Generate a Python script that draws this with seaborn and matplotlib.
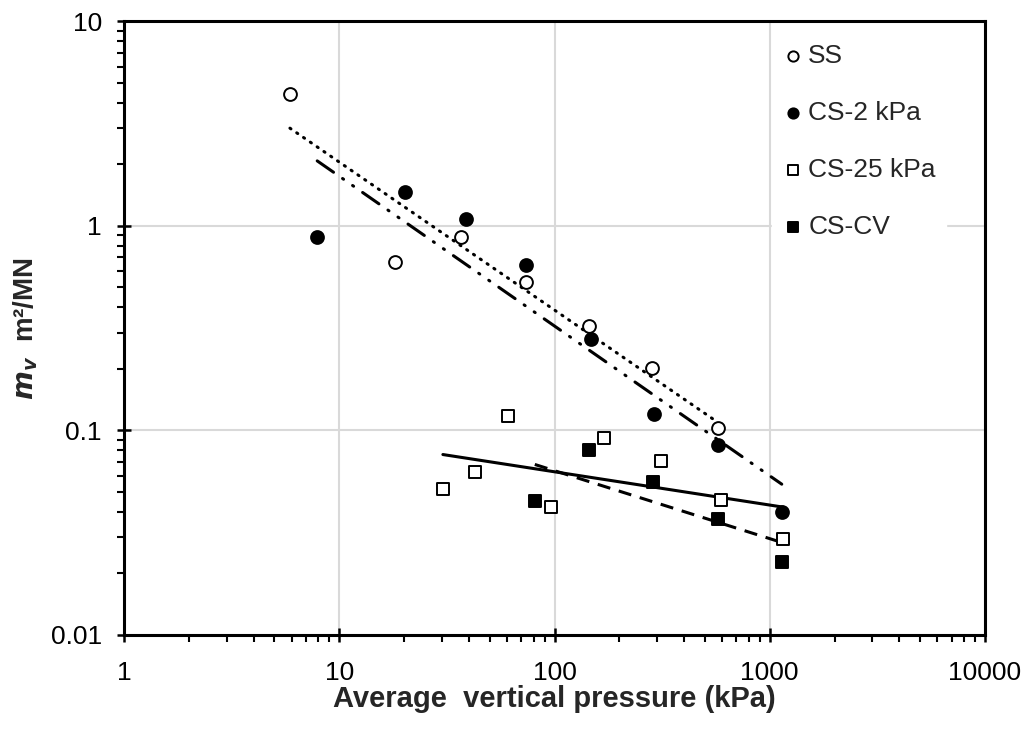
import numpy as np
import matplotlib
matplotlib.use("Agg")
import matplotlib.pyplot as plt
import seaborn as sns

# data (pressure in kPa, mv in m2/MN)
ss_p = [5.9, 18.2, 36.6, 73.4, 145, 285, 574]
ss_mv = [4.40, 0.664, 0.884, 0.53, 0.323, 0.202, 0.102]

cs2_p = [7.9, 20.1, 38.6, 74, 147, 290, 574, 1137]
cs2_mv = [0.883, 1.46, 1.075, 0.641, 0.279, 0.120, 0.085, 0.040]

cs25_p = [30.3, 42.6, 61, 96.2, 169, 313, 595, 1157]
cs25_mv = [0.0514, 0.0625, 0.1175, 0.0421, 0.0917, 0.071, 0.0454, 0.0294]

cscv_p = [81, 145, 286, 574, 1137]
cscv_mv = [0.0453, 0.0805, 0.0556, 0.037, 0.0228]

labels = ["SS", "CS-2 kPa", "CS-25 kPa", "CS-CV"]


def power_fit(x, y):
    # Excel style power trendline: straight line fit in log-log space
    lx, ly = np.log10(x), np.log10(y)
    b, a = np.polyfit(lx, ly, 1)
    xs = np.array([min(x), max(x)])
    return xs, 10 ** (a + b * np.log10(xs))


sns.set_theme(style="white")
plt.rcParams['font.family'] = ['Liberation Sans', 'DejaVu Sans']

fig, ax = plt.subplots(figsize=(10.3, 7.38), dpi=100)
fig.subplots_adjust(left=0.1204, right=0.9563, top=0.971, bottom=0.14)

series = [
    (ss_p, ss_mv, "o", "white", (0, (0.4, 2.3)), "round"),
    (cs2_p, cs2_mv, "o", "black", (0, (6.5, 3.6, 0.4, 3.6, 0.4, 3.6)), "round"),
    (cs25_p, cs25_mv, "s", "white", "-", "round"),
    (cscv_p, cscv_mv, "s", "black", (0, (4.3, 2.9)), "butt"),
]

for (x, y, mk, fc, ls, cap), lab in zip(series, labels):
    xs, ys = power_fit(x, y)
    sns.lineplot(x=xs, y=ys, color="black", lw=2.2, linestyle=ls,
                 dash_capstyle=cap, ax=ax, legend=False)
    sns.scatterplot(x=x, y=y, marker=mk, s=85, facecolor=fc, edgecolor="black",
                    linewidth=1.4, label=lab, ax=ax, zorder=3)

ax.set_xscale("log")
ax.set_yscale("log")
ax.set_xlim(1, 10000)
ax.set_ylim(0.01, 10)
ax.set_xticks([1, 10, 100, 1000, 10000])
ax.set_xticklabels(["1", "10", "100", "1000", "10000"])
ax.set_yticks([0.01, 0.1, 1, 10])
ax.set_yticklabels(["0.01", "0.1", "1", "10"])

ax.grid(True, which="major", color="#d9d9d9", lw=1.5)
ax.grid(False, which="minor")
for sp in ax.spines.values():
    sp.set_color("black")
    sp.set_linewidth(2.2)

ax.tick_params(which="major", direction="inout", length=10, width=1.8,
               labelsize=19, colors="black", pad=11)
ax.tick_params(axis="x", which="major", pad=14)
ax.tick_params(which="minor", direction="out", length=5, width=1.5, colors="black")
ax.tick_params(axis="x", which="both", bottom=True)
ax.tick_params(axis="y", which="both", left=True)

ax.set_xlabel("Average  vertical pressure (kPa)", fontsize=21, fontweight="bold", labelpad=0)
ax.set_ylabel(r"$\mathbfit{m}_{\mathbfit{v}}$  m²/MN", fontsize=20, fontweight="bold", labelpad=8)

leg = ax.legend(loc="upper left", bbox_to_anchor=(0.7526, 0.981), fontsize=19,
                frameon=True, facecolor="white", edgecolor="white", framealpha=1,
                markerscale=0.8, handletextpad=0.17, labelspacing=1.25,
                borderpad=0.4, handlelength=0.8, borderaxespad=0)

fig.savefig("out.png", dpi=100)
